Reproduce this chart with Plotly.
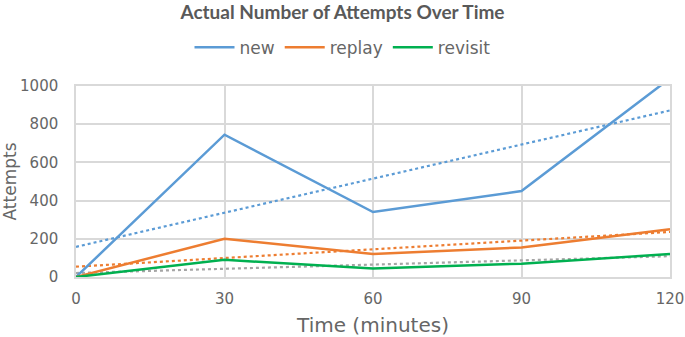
import numpy as np
import plotly.graph_objects as go

time_min = [0, 30, 60, 90, 120]
new_vals = [0, 745, 340, 450, 1040]
replay_vals = [0, 200, 120, 155, 250]
revisit_vals = [0, 90, 45, 70, 120]

series = [
    ("new", new_vals, "#5B9BD5", "#5B9BD5"),
    ("replay", replay_vals, "#ED7D31", "#ED7D31"),
    ("revisit", revisit_vals, "#00B050", "#A5A5A5"),
]

FONT = "DejaVu Sans"
TFONT = "Lato"
GRAY = "#595959"
TICKGRAY = "#666666"

fig = go.Figure()
x = np.array(time_min, dtype=float)
# trendlines (linear least squares) drawn first, dotted
for name, vals, col, tcol in series:
    m, b = np.polyfit(x, np.array(vals, dtype=float), 1)
    fig.add_trace(go.Scatter(x=time_min, y=list(m * x + b), mode="lines",
                             line=dict(color=tcol, width=2.2, dash="dot"),
                             showlegend=False, hoverinfo="skip"))
for name, vals, col, tcol in series:
    fig.add_trace(go.Scatter(x=time_min, y=vals, mode="lines", name=name,
                             line=dict(color=col, width=2.5)))

fig.update_layout(
    width=685, height=337,
    margin=dict(l=76, r=15, t=86, b=60, autoexpand=False),
    paper_bgcolor="white", plot_bgcolor="white",
    font=dict(family=FONT, color=GRAY, size=14),
    title=dict(text="<b>Actual Number of Attempts Over Time</b>", x=0.5, xanchor="center",
               y=0.964, yanchor="middle", font=dict(size=19, color=GRAY, family=TFONT)),
    legend=dict(orientation="h", xref="container", x=0.5, xanchor="center", y=1.2,
                yanchor="middle", font=dict(size=17, color=TICKGRAY, family=FONT),
                traceorder="normal", itemwidth=40),
    xaxis=dict(range=[0, 120], tickvals=time_min, showgrid=True, gridcolor="#D9D9D9",
               gridwidth=1.5, zeroline=False, showline=True, linecolor="#D9D9D9", linewidth=1.5,
               mirror=True, ticks="", ticklabelstandoff=7, tickfont=dict(size=15, color=TICKGRAY),
               title=dict(text="Time (minutes)", font=dict(size=20, color=TICKGRAY), standoff=11)),
    yaxis=dict(range=[0, 1000], dtick=200, showgrid=True, gridcolor="#D9D9D9", gridwidth=1.5,
               zeroline=False, showline=True, linecolor="#D9D9D9", linewidth=1.5, mirror=True,
               ticks="", ticklabelstandoff=13, tickfont=dict(size=15, color=TICKGRAY),
               title=dict(text="Attempts", font=dict(size=17, color=TICKGRAY), standoff=4)),
)

fig.write_html("out.html", config={"displayModeBar": False},
               post_script="document.body.style.margin='0';document.body.style.overflow='hidden';")
